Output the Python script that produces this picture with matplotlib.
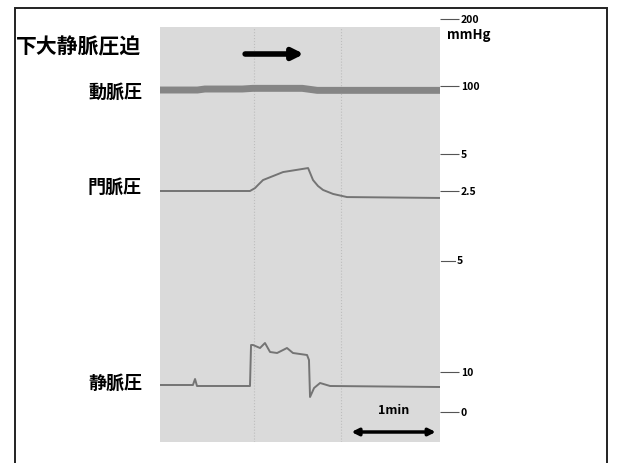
import matplotlib
matplotlib.use('Agg')
import matplotlib.pyplot as plt
from matplotlib.patches import Rectangle
from matplotlib.lines import Line2D
from matplotlib.transforms import blended_transform_factory

plt.rcParams['font.family'] = ['Noto Sans CJK JP', 'DejaVu Sans']

# Recording: inferior vena cava compression, time in seconds
art_t = [0, 25, 30, 55, 62, 95, 105, 187]
art_v = [94, 94, 95.5, 95.5, 96.5, 96.5, 93.5, 93.5]          # mmHg

portal_t = [0, 60.1, 63.5, 65.5, 68.8, 82.2, 98.9, 102.2, 105.5, 108.9,
            115.6, 124.9, 187]
portal_v = [2.5, 2.5, 2.70, 2.91, 3.24, 3.78, 4.05, 3.24, 2.84, 2.57,
            2.30, 2.09, 2.03]

ven_t = [0, 22.0, 23.4, 24.7, 60.1, 60.8, 62.1, 66.8, 70.1, 73.5, 78.2,
         82.2, 84.8, 88.8, 98.2, 99.5, 100.2, 102.9, 106.9, 113.6, 187]
ven_v = [6.75, 6.75, 8.25, 6.5, 6.5, 16.75, 16.75, 16.0, 17.25, 15.0, 14.75,
         15.5, 16.0, 14.75, 14.25, 13.0, 3.75, 6.0, 7.25, 6.5, 6.25]

compress_t = (55, 98)
timebar_t = (126, 186)

W, H = 619, 463
def fx(px):
    return px / W
def fy(py):
    return 1 - py / H

fig = plt.figure(figsize=(W / 100, H / 100), dpi=100)

# outer frame
fig.add_artist(Rectangle((fx(15), fy(470)), fx(607) - fx(15), fy(8) - fy(470),
                         transform=fig.transFigure, fill=False,
                         edgecolor='#222222', linewidth=1.4))

# chart paper
gl, gt, gr, gb = 160, 27, 440, 442
ax_bg = fig.add_axes([fx(gl), fy(gb), fx(gr) - fx(gl), fy(gt) - fy(gb)])
ax_bg.set_facecolor('#dadada')
ax_bg.set_xlim(0, 187)
ax_bg.set_ylim(0, 1)
for x in (62.8, 121):
    ax_bg.axvline(x, color='#bdbdbd', lw=0.8, ls=':')
ax_bg.set_xticks([])
ax_bg.set_yticks([])
for s in ax_bg.spines.values():
    s.set_visible(False)

# trace axes extend a little above/below the paper so the scale ticks fit
at, ab = 8, 445
def trace_axes(a1, a2):
    (v1, p1), (v2, p2) = a1, a2
    k = (p1 - p2) / (v2 - v1)
    ax = fig.add_axes([fx(gl), fy(ab), fx(gr) - fx(gl), fy(at) - fy(ab)])
    ax.patch.set_alpha(0)
    ax.set_xlim(0, 187)
    ax.set_ylim(v1 + (p1 - ab) / k, v1 + (p1 - at) / k)
    ax.set_xticks([])
    for s in ax.spines.values():
        s.set_visible(False)
    ax.yaxis.tick_right()
    ax.tick_params(axis='y', direction='out', length=14, width=0.8,
                   color='#555555', pad=1, labelsize=7.5)
    return ax

ax_art = trace_axes((100, 86), (200, 19))
ax_art.plot(art_t, art_v, color='#858585', lw=5, solid_capstyle='butt')
ax_art.set_yticks([100, 200])
ax_art.set_yticklabels(['100', '200'])

ax_por = trace_axes((2.5, 191), (5, 154))
ax_por.plot(portal_t, portal_v, color='#747474', lw=1.4)
ax_por.set_yticks([2.5, 5])
ax_por.set_yticklabels(['2.5', '5'])

ax_ven = trace_axes((0, 412), (10, 372))
ax_ven.plot(ven_t, ven_v, color='#747474', lw=1.4)
ax_ven.set_yticks([0, 10])
ax_ven.set_yticklabels(['0', '10'])

for ax in (ax_art, ax_por, ax_ven):
    for lab in ax.get_yticklabels():
        lab.set_fontweight('bold')

# extra scale mark between portal and venous channels
fig.add_artist(Line2D([fx(441), fx(455)], [fy(261), fy(261)],
                      transform=fig.transFigure, color='#555555', lw=0.8))
fig.text(fx(457), fy(261), '5', fontsize=7.5, fontweight='bold', va='center')

fig.text(fx(447), fy(35), 'mmHg', fontsize=9.5, fontweight='bold', va='center')

# channel labels
fig.text(fx(16), fy(47), '下大静脈圧迫', fontsize=15, fontweight='bold',
         va='center', ha='left')
for py, name in ((92, '動脈圧'), (187, '門脈圧'), (383, '静脈圧')):
    fig.text(fx(142), fy(py), name, fontsize=13, fontweight='bold',
             va='center', ha='right')

# compression arrow and time bar
ax_art.annotate('', xy=(compress_t[1], fy(54)), xytext=(compress_t[0], fy(54)),
                xycoords=('data', 'figure fraction'),
                textcoords=('data', 'figure fraction'),
                arrowprops=dict(arrowstyle='-|>', lw=4, color='black',
                                mutation_scale=16))
ax_art.annotate('', xy=(timebar_t[1], fy(432)), xytext=(timebar_t[0], fy(432)),
                xycoords=('data', 'figure fraction'),
                textcoords=('data', 'figure fraction'),
                arrowprops=dict(arrowstyle='<|-|>', lw=2.5, color='black',
                                mutation_scale=10))
ax_art.text(sum(timebar_t) / 2, fy(411), '1min', fontsize=9, fontweight='bold',
            ha='center', va='center',
            transform=blended_transform_factory(ax_art.transData,
                                                fig.transFigure))

fig.savefig('out.png', dpi=100)
